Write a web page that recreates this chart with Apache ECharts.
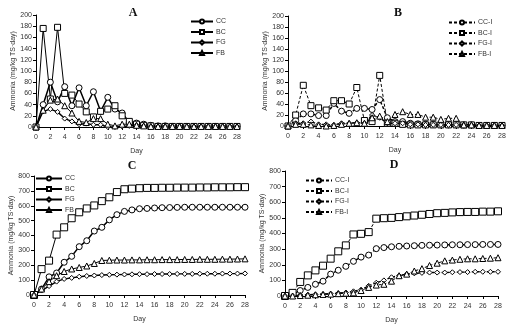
<!DOCTYPE html>
<html>
<head>
<meta charset="utf-8">
<script src="https://cdn.jsdelivr.net/npm/echarts@6/dist/echarts.min.js"></script>
<style>
  html, body { margin: 0; padding: 0; background: #fff; }
  #main { width: 516px; height: 327px; }
</style>
</head>
<body>
<div id="main"></div>
<script>
// days 0..28
const days = [0,1,2,3,4,5,6,7,8,9,10,11,12,13,14,15,16,17,18,19,20,21,22,23,24,25,26,27,28];

// A - daily ammonia
const ccA = [0,40,80,45,72,38,70,38,63,28,53,32,25,8,7,5,3,2,2,1,1,1,1,1,1,1,1,1,1];
const bcA = [0,176,50,178,60,57,41,27,18,28,32,38,20,10,5,3,2,1,1,1,1,1,1,1,1,1,1,1,1];
const fgA = [0,28,32,27,15,10,5,6,4,4,0,0,1,2,3,2,1,1,1,1,1,1,1,1,1,1,1,1,1];
const fbA = [0,30,48,50,38,25,10,8,15,15,5,2,5,5,3,2,1,1,1,1,1,1,1,1,1,1,1,1,1];

// B - daily ammonia (I)
const ccB = [0,10,22,22,19,19,41,27,23,32,32,30,48,15,8,8,5,4,3,3,2,2,2,2,2,1,1,1,1];
const bcB = [0,20,74,37,33,29,46,46,40,70,10,8,92,5,5,3,2,2,2,2,2,2,2,2,2,1,1,1,1];
const fgB = [0,5,5,8,3,3,2,5,5,6,5,20,15,5,5,5,3,3,2,2,2,2,2,2,2,1,1,1,1];
const fbB = [0,3,3,2,1,0,1,3,5,6,5,15,18,8,21,26,21,21,16,16,12,14,14,2,2,1,1,1,1];

// C - cumulative
const ccC = [0,40,122,148,220,260,325,365,430,455,505,540,562,572,580,582,585,587,588,589,590,590,590,590,590,590,590,590,590];
const bcC = [0,174,231,406,455,516,556,582,602,631,657,692,711,715,718,720,720,721,721,722,722,722,723,723,724,724,724,725,725];
const fgC = [0,30,60,90,108,115,123,128,131,134,136,137,138,139,140,140,141,141,141,142,142,142,143,143,143,144,144,144,145];
const fbC = [0,40,90,130,158,175,185,195,212,232,234,235,235,236,236,237,237,238,238,238,239,239,240,240,240,241,241,242,243];

// D - cumulative (I)
const ccD = [0,10,35,55,75,95,140,165,190,222,249,262,303,310,315,318,320,322,324,325,326,327,328,328,329,329,330,330,330];
const bcD = [0,20,90,132,164,194,239,286,324,394,398,409,495,498,500,505,510,515,520,525,530,532,535,537,538,538,540,540,542];
const fgD = [0,2,5,8,10,12,15,18,22,30,40,65,85,100,120,130,140,145,148,150,150,150,152,153,153,155,155,155,155];
const fbD = [0,0,3,5,8,10,12,15,18,20,35,55,70,75,95,130,140,160,175,195,210,225,230,235,238,238,240,242,245];

const namesPlain = ['CC','BC','FG','FB'];
const namesI = ['CC-I','BC-I','FG-I','FB-I'];

const font = 'Liberation Sans';
const txt = '#333';
const yName = 'Ammonia (mg/kg TS·day)';

const chart = echarts.init(document.getElementById('main'));

function pairs(vals) {
  return days.map((d, i) => [d, vals[i]]);
}

// marker + line look per treatment
const looks = [
  { symbol: 'circle', size: 6, width: 1.5 },
  { symbol: 'rect', size: 6, width: 1 },
  { symbol: 'diamond', size: 5, width: 1.4 },
  { symbol: 'triangle', size: 6, width: 1 }
];

function mk(name, vals, idx, look, dashed, sizeAdd) {
  return {
    name: name,
    type: 'line',
    xAxisIndex: idx,
    yAxisIndex: idx,
    data: pairs(vals),
    symbol: look.symbol,
    symbolSize: look.size + (sizeAdd || 0),
    showAllSymbol: true,
    animation: false,
    lineStyle: { color: '#000', width: look.width, type: dashed ? [3, 2] : 'solid' },
    itemStyle: { color: '#fff', borderColor: '#000', borderWidth: 1 }
  };
}

function xAx(idx) {
  return {
    gridIndex: idx, type: 'value', min: 0, max: 28, interval: 2,
    name: 'Day', nameLocation: 'middle', nameGap: 21,
    nameTextStyle: { fontFamily: font, fontSize: 7, color: txt },
    axisLine: { lineStyle: { color: '#000', width: 1 } },
    axisTick: { length: 3, lineStyle: { color: '#000' } },
    axisLabel: { fontFamily: font, fontSize: 7, color: txt, margin: 7 },
    splitLine: { show: false }
  };
}

function yAx(idx, max, step) {
  return {
    gridIndex: idx, type: 'value', min: 0, max: max, interval: step,
    name: yName, nameLocation: 'middle', nameGap: 18,
    nameTextStyle: { fontFamily: font, fontSize: 7, color: txt },
    axisLine: { show: true, lineStyle: { color: '#000', width: 1 } },
    axisTick: { show: true, length: 3, lineStyle: { color: '#000' } },
    axisLabel: { fontFamily: font, fontSize: 7, color: txt, margin: 4 },
    splitLine: { show: false }
  };
}

function leg(names, left, top, w) {
  return {
    data: names, orient: 'vertical', left: left, top: top, padding: 0,
    itemWidth: w, itemHeight: 5, itemGap: 3.5, selectedMode: false,
    textStyle: { fontFamily: font, fontSize: 7, color: txt, padding: [0, 0, 0, -2] }
  };
}

function ttl(text, x, y) {
  return {
    text: text, left: x, top: y, textAlign: 'center', padding: 0,
    textStyle: { fontFamily: 'Liberation Serif', fontSize: 12, fontWeight: 'bold', color: '#111' }
  };
}

const series = [];
[ccA, bcA, fgA, fbA].forEach((v, k) => series.push(mk(namesPlain[k], v, 0, looks[k], false)));
[ccB, bcB, fgB, fbB].forEach((v, k) => series.push(mk(namesI[k], v, 1, looks[k], true)));
[ccC, bcC, fgC, fbC].forEach((v, k) => series.push(mk(namesPlain[k], v, 2, looks[k], false, k === 1 ? 1 : 0)));
[ccD, bcD, fgD, fbD].forEach((v, k) => series.push(mk(namesI[k], v, 3, looks[k], true, k === 1 ? 1 : 0)));

const option = {
  backgroundColor: '#fff',
  animation: false,
  title: [ttl('A', 133, 7), ttl('B', 398, 7), ttl('C', 132, 160), ttl('D', 394, 159)],
  legend: [
    leg(namesPlain, 190, 18, 22),
    leg(namesI, 448, 19, 26),
    leg(namesPlain, 35, 175, 26),
    leg(namesI, 305, 177, 26)
  ],
  grid: [
    { left: 36, top: 15, width: 201, height: 112 },
    { left: 288, top: 16, width: 214, height: 110 },
    { left: 34, top: 176, width: 211, height: 119 },
    { left: 285, top: 171, width: 213, height: 125 }
  ],
  xAxis: [xAx(0), xAx(1), xAx(2), xAx(3)],
  yAxis: [yAx(0, 200, 20), yAx(1, 200, 20), yAx(2, 800, 100), yAx(3, 800, 100)],
  series: series
};

chart.setOption(option);
window.addEventListener('resize', () => { chart.resize(); });
</script>
</body>
</html>
